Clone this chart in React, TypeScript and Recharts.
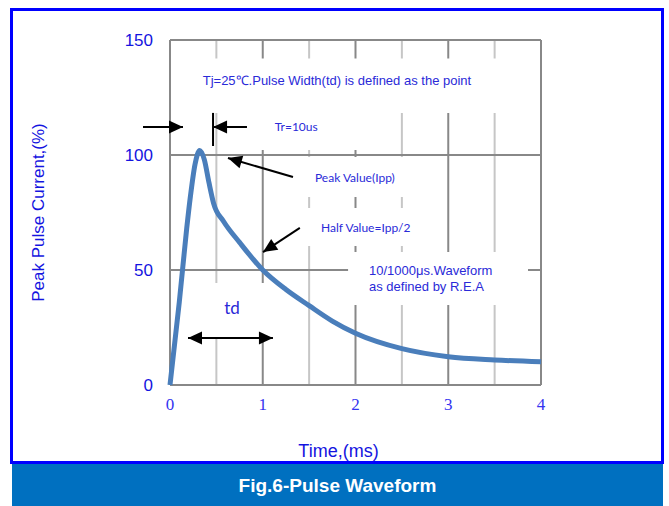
import React from 'react';
import {
  LineChart,
  Line,
  XAxis,
  YAxis,
  CartesianGrid,
  ReferenceArea,
  ReferenceLine,
  ReferenceDot,
} from 'recharts';

// curve: time in ms, current in % of Ipp
const TIME = [0, 0.1, 0.18, 0.22, 0.27, 0.32, 0.37, 0.42, 0.47, 0.58, 0.75, 1.0, 1.25, 1.5, 1.75, 2.0, 2.5, 3.0, 3.5, 4.0];
const CURRENT = [0, 36, 68, 82, 96, 102, 98, 88, 79, 71, 62, 50, 41.5, 34.5, 27.8, 22.5, 15.8, 12.3, 10.9, 10.1];

const X_TICKS = [0, 1, 2, 3, 4];
const X_HALF_GRID = [0.5, 1.5, 2.5, 3.5];
const Y_TICKS = [0, 50, 100, 150];

// white label boxes that hide the grid behind the notes
const BOXES = [
  { x1: 0.05, x2: 3.95, y1: 118.3, y2: 142 },
  { x1: 0.76, x2: 2.05, y1: 102.2, y2: 118.3 },
  { x1: 1.29, x2: 2.7, y1: 81.7, y2: 99.1 },
  { x1: 1.24, x2: 2.8, y1: 60.4, y2: 77 },
  { x1: 1.92, x2: 3.86, y1: 34.8, y2: 57.8 },
  { x1: 0.22, x2: 1.29, y1: 20.9, y2: 44.3 },
];

const NOTES = [
  { x: 1.8, y: 132.2, text: 'Tj=25℃.Pulse Width(td) is defined as the point', anchor: 'middle', size: 13, font: 'Liberation Sans, Arial' },
  { x: 1.13, y: 112.2, text: 'Tr=10us', anchor: 'start', size: 12, font: 'Lato' },
  { x: 1.563, y: 90.4, text: 'Peak Value(Ipp)', anchor: 'start', size: 12, font: 'Lato' },
  { x: 1.628, y: 68.3, text: 'Half Value=Ipp/2', anchor: 'start', size: 12, font: 'Lato' },
  { x: 2.146, y: 50, text: '10/1000μs.Waveform', anchor: 'start', size: 13, font: 'Liberation Sans, Arial' },
  { x: 2.146, y: 43, text: 'as defined by R.E.A', anchor: 'start', size: 13, font: 'Liberation Sans, Arial' },
  { x: 0.668, y: 33.9, text: 'td', anchor: 'middle', size: 17, font: 'Lato' },
];

const ARROWS = [
  { from: { x: -0.291, y: 112.2 }, to: { x: 0.14, y: 112.2 }, head: 'end' },
  { from: { x: 0.464, y: 118.3 }, to: { x: 0.464, y: 103.9 }, head: 'none' },
  { from: { x: 0.83, y: 112.2 }, to: { x: 0.464, y: 112.2 }, head: 'end' },
  { from: { x: 1.326, y: 90.4 }, to: { x: 0.625, y: 98.7 }, head: 'end' },
  { from: { x: 1.4, y: 68.3 }, to: { x: 1.003, y: 57.8 }, head: 'end' },
  { from: { x: 0.194, y: 20.4 }, to: { x: 1.11, y: 20.4 }, head: 'both' },
];

const data = TIME.map((t, i) => ({ t, current: CURRENT[i] }));

const AXIS_BLUE = '#1414e0';
const TICK_X_BLUE = '#3434f0';
const NOTE_BLUE = '#2a2ad8';

function head(xa: number, ya: number, xb: number, yb: number) {
  // triangle with tip at (xb, yb), pointing away from (xa, ya)
  const len = 14;
  const half = 6.5;
  const dx = xb - xa;
  const dy = yb - ya;
  const d = Math.hypot(dx, dy) || 1;
  const ux = dx / d;
  const uy = dy / d;
  const bx = xb - ux * len;
  const by = yb - uy * len;
  const pts = [
    [xb, yb],
    [bx - uy * half, by + ux * half],
    [bx + uy * half, by - ux * half],
  ];
  return <polygon points={pts.map((p) => p.join(',')).join(' ')} fill="#000" />;
}

function arrowShape(kind: string) {
  return (p: any) => {
    const { x1, y1, x2, y2 } = p;
    return (
      <g>
        <line x1={x1} y1={y1} x2={x2} y2={y2} stroke="#000" strokeWidth={2} />
        {(kind === 'end' || kind === 'both') && head(x1, y1, x2, y2)}
        {kind === 'both' && head(x2, y2, x1, y1)}
      </g>
    );
  };
}

export default function App() {
  return (
    <div style={{ position: 'relative', width: 669, height: 506, background: '#fff' }}>
      <style>{'body{margin:0}'}</style>
      <div
        style={{
          position: 'absolute',
          left: 10,
          top: 8,
          width: 654,
          height: 456,
          border: '3px solid #0000ff',
          boxSizing: 'border-box',
        }}
      />
      <div
        style={{
          position: 'absolute',
          left: 12,
          top: 464,
          width: 651,
          height: 42,
          background: '#0070c0',
          color: '#fff',
          fontFamily: 'Liberation Sans, Arial, sans-serif',
          fontWeight: 'bold',
          fontSize: 19,
          lineHeight: '44px',
          textAlign: 'center',
        }}
      >
        Fig.6-Pulse Waveform
      </div>
      <div style={{ position: 'absolute', left: 0, top: 0 }}>
        <LineChart width={669} height={506} data={data} margin={{ top: 40, right: 128, bottom: 46, left: 10 }}>
          <CartesianGrid horizontal={false} stroke="#c6c6c6" strokeWidth={2} verticalValues={X_HALF_GRID} />
          <CartesianGrid stroke="#888888" strokeWidth={2} verticalValues={X_TICKS} horizontalValues={Y_TICKS} />
          <XAxis
            dataKey="t"
            type="number"
            domain={[0, 4]}
            ticks={X_TICKS}
            axisLine={false}
            tickLine={false}
            tickSize={0}
            tickMargin={13}
            height={75}
            tick={{ fill: TICK_X_BLUE, fontSize: 17, fontFamily: 'Liberation Serif, Times New Roman, serif' }}
            label={{
              value: 'Time,(ms)',
              position: 'insideBottom',
              offset: 3,
              dx: -17,
              fill: AXIS_BLUE,
              fontSize: 18,
              fontFamily: 'Liberation Sans, Arial, sans-serif',
            }}
          />
          <YAxis
            type="number"
            domain={[0, 150]}
            ticks={Y_TICKS}
            axisLine={false}
            tickLine={false}
            tickSize={0}
            tickMargin={17}
            width={160}
            tick={{ fill: AXIS_BLUE, fontSize: 17, fontFamily: 'Liberation Sans, Arial, sans-serif' }}
            label={{
              value: 'Peak Pulse Current,(%)',
              angle: -90,
              position: 'insideLeft',
              offset: 28,
              fill: AXIS_BLUE,
              fontSize: 17,
              fontFamily: 'Liberation Sans, Arial, sans-serif',
              style: { textAnchor: 'middle' },
            }}
          />
          {BOXES.map((b, i) => (
            <ReferenceArea key={'b' + i} x1={b.x1} x2={b.x2} y1={b.y1} y2={b.y2} fill="#fff" fillOpacity={1} stroke="none" />
          ))}
          <Line
            type="monotone"
            dataKey="current"
            stroke="#4a7ebb"
            strokeWidth={5}
            dot={false}
            activeDot={false}
            isAnimationActive={false}
          />
          {ARROWS.map((a, i) => (
            <ReferenceLine key={'a' + i} segment={[a.from, a.to]} ifOverflow="visible" shape={arrowShape(a.head)} />
          ))}
          {NOTES.map((n, i) => (
            <ReferenceDot
              key={'n' + i}
              x={n.x}
              y={n.y}
              r={0}
              ifOverflow="visible"
              shape={(p: any) => (
                <text
                  x={p.cx}
                  y={p.cy}
                  textAnchor={n.anchor}
                  dominantBaseline="central"
                  fill={NOTE_BLUE}
                  fontSize={n.size}
                  fontFamily={n.font}
                >
                  {n.text}
                </text>
              )}
            />
          ))}
        </LineChart>
      </div>
    </div>
  );
}
